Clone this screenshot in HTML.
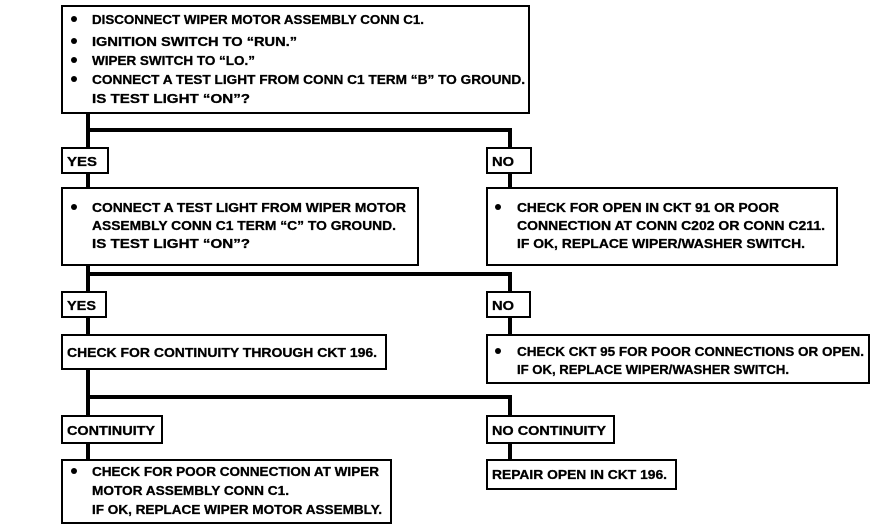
<!DOCTYPE html>
<html><head><style>
html,body{margin:0;padding:0;background:#fff;}
svg{display:block}
text{font-family:"Liberation Sans",sans-serif;font-weight:bold;font-size:13px;fill:#000;stroke:#000;stroke-width:0.3}
</style></head><body>
<svg width="896" height="530" viewBox="0 0 896 530" xmlns="http://www.w3.org/2000/svg">
<g fill="none" stroke="#000" stroke-width="2">
<rect x="62" y="6" width="467" height="107"/>
<rect x="62" y="148" width="46" height="25"/>
<rect x="487" y="148" width="44" height="25"/>
<rect x="62" y="188" width="356" height="77"/>
<rect x="487" y="188" width="350" height="77"/>
<rect x="62" y="292" width="44" height="25"/>
<rect x="487" y="292" width="43" height="25"/>
<rect x="62" y="335" width="324" height="34"/>
<rect x="487" y="335" width="382" height="48"/>
<rect x="62" y="416" width="100" height="27"/>
<rect x="487" y="416" width="127" height="27"/>
<rect x="62" y="460" width="329" height="63"/>
<rect x="487" y="460" width="189" height="29"/>
</g>
<g fill="none" stroke="#000" stroke-width="4">
<path d="M88 113 V148 M88 130 H510 V148"/>
<path d="M88 173 V188 M510 173 V188"/>
<path d="M88 265 V292 M88 274 H510 V292"/>
<path d="M88 317 V335 M510 317 V335"/>
<path d="M88 369 V416 M88 397 H510 V416"/>
<path d="M88 443 V460 M510 443 V460"/>
</g>
<g fill="#000">
<circle cx="74" cy="19" r="3"/><circle cx="74" cy="41" r="3"/><circle cx="74" cy="60" r="3"/><circle cx="74" cy="79" r="3"/>
<circle cx="74" cy="207" r="3"/><circle cx="498" cy="207" r="3"/><circle cx="498" cy="351" r="3"/><circle cx="74" cy="471" r="3"/>
</g>
<text x="92" y="24" textLength="332" lengthAdjust="spacingAndGlyphs">DISCONNECT WIPER MOTOR ASSEMBLY CONN C1.</text>
<text x="92" y="46" textLength="205" lengthAdjust="spacingAndGlyphs">IGNITION SWITCH TO “RUN.”</text>
<text x="92" y="65" textLength="163" lengthAdjust="spacingAndGlyphs">WIPER SWITCH TO “LO.”</text>
<text x="92" y="84" textLength="433" lengthAdjust="spacingAndGlyphs">CONNECT A TEST LIGHT FROM CONN C1 TERM “B” TO GROUND.</text>
<text x="92" y="103" textLength="158" lengthAdjust="spacingAndGlyphs">IS TEST LIGHT “ON”?</text>
<text x="67" y="166" textLength="30" lengthAdjust="spacingAndGlyphs">YES</text>
<text x="492" y="166" textLength="22" lengthAdjust="spacingAndGlyphs">NO</text>
<text x="92" y="212" textLength="314" lengthAdjust="spacingAndGlyphs">CONNECT A TEST LIGHT FROM WIPER MOTOR</text>
<text x="92" y="230" textLength="304" lengthAdjust="spacingAndGlyphs">ASSEMBLY CONN C1 TERM “C” TO GROUND.</text>
<text x="92" y="248" textLength="158" lengthAdjust="spacingAndGlyphs">IS TEST LIGHT “ON”?</text>
<text x="517" y="212" textLength="262" lengthAdjust="spacingAndGlyphs">CHECK FOR OPEN IN CKT 91 OR POOR</text>
<text x="517" y="230" textLength="308" lengthAdjust="spacingAndGlyphs">CONNECTION AT CONN C202 OR CONN C211.</text>
<text x="517" y="248" textLength="288" lengthAdjust="spacingAndGlyphs">IF OK, REPLACE WIPER/WASHER SWITCH.</text>
<text x="67" y="310" textLength="29" lengthAdjust="spacingAndGlyphs">YES</text>
<text x="492" y="310" textLength="22" lengthAdjust="spacingAndGlyphs">NO</text>
<text x="67" y="357" textLength="310" lengthAdjust="spacingAndGlyphs">CHECK FOR CONTINUITY THROUGH CKT 196.</text>
<text x="517" y="356" textLength="347" lengthAdjust="spacingAndGlyphs">CHECK CKT 95 FOR POOR CONNECTIONS OR OPEN.</text>
<text x="517" y="374" textLength="272" lengthAdjust="spacingAndGlyphs">IF OK, REPLACE WIPER/WASHER SWITCH.</text>
<text x="67" y="435" textLength="88" lengthAdjust="spacingAndGlyphs">CONTINUITY</text>
<text x="492" y="435" textLength="114" lengthAdjust="spacingAndGlyphs">NO CONTINUITY</text>
<text x="92" y="476" textLength="287" lengthAdjust="spacingAndGlyphs">CHECK FOR POOR CONNECTION AT WIPER</text>
<text x="92" y="495" textLength="197" lengthAdjust="spacingAndGlyphs">MOTOR ASSEMBLY CONN C1.</text>
<text x="92" y="514" textLength="290" lengthAdjust="spacingAndGlyphs">IF OK, REPLACE WIPER MOTOR ASSEMBLY.</text>
<text x="492" y="479" textLength="175" lengthAdjust="spacingAndGlyphs">REPAIR OPEN IN CKT 196.</text>
</svg>
</body></html>
